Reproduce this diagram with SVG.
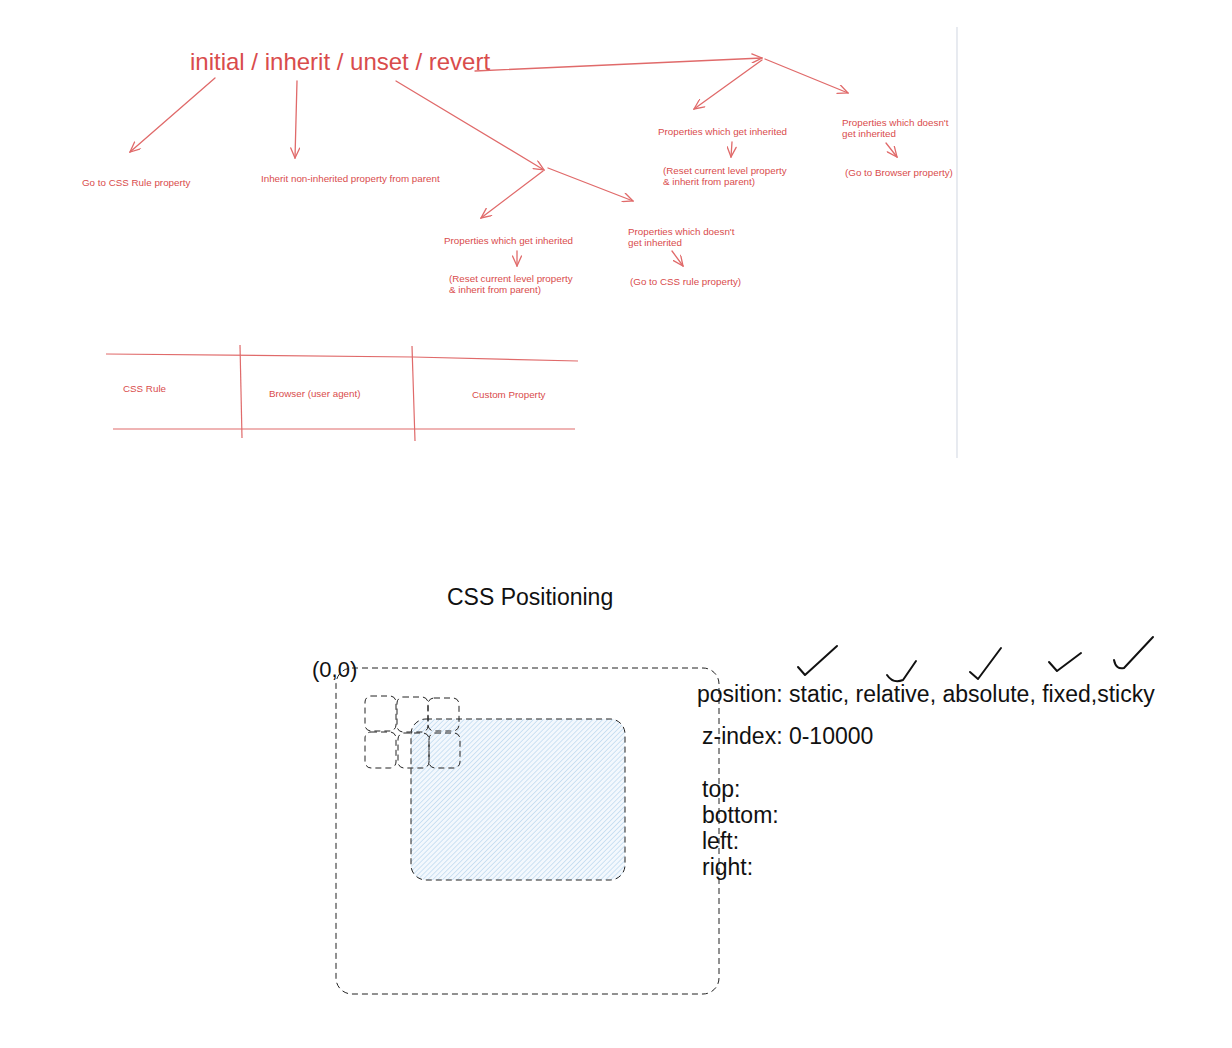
<svg xmlns="http://www.w3.org/2000/svg" width="1232" height="1048" viewBox="0 0 1232 1048">
<style>
.r{font-family:"Liberation Sans",Arial,sans-serif;fill:#d94c4c;font-size:9.8px}
.t{font-family:"Liberation Sans",Arial,sans-serif;fill:#d94c4c;font-size:24px}
.k{font-family:"Liberation Sans",Arial,sans-serif;fill:#111;font-size:23px}
.ln{fill:none;stroke:#e06a6a;stroke-width:1.3;stroke-linecap:round}
.tb{fill:none;stroke:#e06a6a;stroke-width:1.2}
.d{fill:none;stroke:#222;stroke-width:1;stroke-dasharray:6 4}
.ck{fill:none;stroke:#111;stroke-width:2;stroke-linecap:round;stroke-linejoin:round}
</style>
<defs>
<marker id="ah" viewBox="0 0 12 10" refX="11" refY="5" markerWidth="12" markerHeight="10" markerUnits="userSpaceOnUse" orient="auto">
<path d="M1,0.5 L11,5 L1,9.5" fill="none" stroke="#e06a6a" stroke-width="1.3" stroke-linecap="round"/>
</marker>
<pattern id="hatch" width="3.5" height="3.5" patternUnits="userSpaceOnUse" patternTransform="rotate(45)">
<rect width="3.5" height="3.5" fill="#f3f8fd"/>
<line x1="0" y1="0" x2="0" y2="3.5" stroke="#b3d2ec" stroke-width="1.2"/>
</pattern>
</defs>
<rect width="1232" height="1048" fill="#fff"/>

<line x1="957" y1="27" x2="957" y2="458" stroke="#d8dde6" stroke-width="1.2"/>

<g id="connectors">
<path class="ln" d="M215,78 L130,152" marker-end="url(#ah)"/>
<path class="ln" d="M297,81 L295,158" marker-end="url(#ah)"/>
<path class="ln" d="M396,81 L544,170" marker-end="url(#ah)"/>
<path class="ln" d="M548,168 L633,201" marker-end="url(#ah)"/>
<path class="ln" d="M543,171 L481,218" marker-end="url(#ah)"/>
<path class="ln" d="M517,251 L517,266" marker-end="url(#ah)"/>
<path class="ln" d="M672,251 L683,266" marker-end="url(#ah)"/>
<path class="ln" d="M475,71 L762,58" marker-end="url(#ah)"/>
<path class="ln" d="M762,60 L694,109" marker-end="url(#ah)"/>
<path class="ln" d="M765,59 L848,93" marker-end="url(#ah)"/>
<path class="ln" d="M732,142 L731,157" marker-end="url(#ah)"/>
<path class="ln" d="M886,143 L897,157" marker-end="url(#ah)"/>
</g>

<g id="title"><text class="t" x="190" y="70">initial / inherit / unset / revert</text></g>
<g id="n-initial"><text class="r" x="82" y="185.5">Go to CSS Rule property</text></g>
<g id="n-inherit"><text class="r" x="261" y="181.5">Inherit non-inherited property from parent</text></g>
<g id="n-revert-inh"><text class="r" x="658" y="134.5">Properties which get inherited</text></g>
<g id="n-revert-inh-r"><text class="r" x="663" y="173.5">(Reset current level property</text><text class="r" x="663" y="184.5">&amp; inherit from parent)</text></g>
<g id="n-revert-non"><text class="r" x="842" y="125.5">Properties which doesn't</text><text class="r" x="842" y="137">get inherited</text></g>
<g id="n-revert-non-r"><text class="r" x="845" y="175.5">(Go to Browser property)</text></g>
<g id="n-unset-inh"><text class="r" x="444" y="243.5">Properties which get inherited</text></g>
<g id="n-unset-inh-r"><text class="r" x="449" y="281.5">(Reset current level property</text><text class="r" x="449" y="292.5">&amp; inherit from parent)</text></g>
<g id="n-unset-non"><text class="r" x="628" y="234.5">Properties which doesn't</text><text class="r" x="628" y="245.5">get inherited</text></g>
<g id="n-unset-non-r"><text class="r" x="630" y="284.5">(Go to CSS rule property)</text></g>

<g id="table">
<path class="tb" d="M106,354 L413,357 L578,361"/>
<path class="tb" d="M113,429 L575,429"/>
<path class="tb" d="M240,345 L242,438"/>
<path class="tb" d="M412,346 L415,441"/>
<text class="r" x="123" y="391.5">CSS Rule</text>
<text class="r" x="269" y="396.5">Browser (user agent)</text>
<text class="r" x="472" y="397.5">Custom Property</text>
</g>

<g id="positioning-title"><text class="k" x="447" y="605">CSS Positioning</text></g>

<g id="outer-box"><rect class="d" x="336" y="668" width="383" height="326" rx="16"/></g>
<g id="inner-box"><rect x="411" y="719" width="214" height="161" rx="15" fill="url(#hatch)" stroke="#222" stroke-width="1" stroke-dasharray="6 4"/></g>
<g id="squares">
<rect class="d" x="365" y="696" width="31" height="35" rx="6"/>
<rect class="d" x="397" y="697" width="31" height="35" rx="6"/>
<rect class="d" x="428" y="698" width="31" height="33" rx="6"/>
<rect class="d" x="365" y="732" width="31" height="36" rx="6"/>
<rect class="d" x="398" y="733" width="31" height="35" rx="6"/>
<rect class="d" x="429" y="733" width="31" height="35" rx="6"/>
</g>
<g id="origin"><text class="k" x="312" y="677" style="font-size:22px">(0,0)</text></g>

<g id="props">
<text class="k" x="697" y="702">position: static, relative, absolute, fixed,sticky</text>
<text class="k" x="702" y="744">z-index: 0-10000</text>
<text class="k" x="702" y="797">top:</text>
<text class="k" x="702" y="823">bottom:</text>
<text class="k" x="702" y="849">left:</text>
<text class="k" x="702" y="875">right:</text>
</g>

<g id="checks">
<path class="ck" d="M798,667 L805,675 L837,646"/>
<path class="ck" d="M887,675 Q893,684 903,680 L916,661"/>
<path class="ck" d="M970,672 L978,679 L1001,648"/>
<path class="ck" d="M1049,662 L1057,671 L1081,653" stroke-width="3.4"/>
<path class="ck" d="M1114,660 Q1116,670 1124,668 L1153,637" stroke-width="2.4"/>
</g>
</svg>
